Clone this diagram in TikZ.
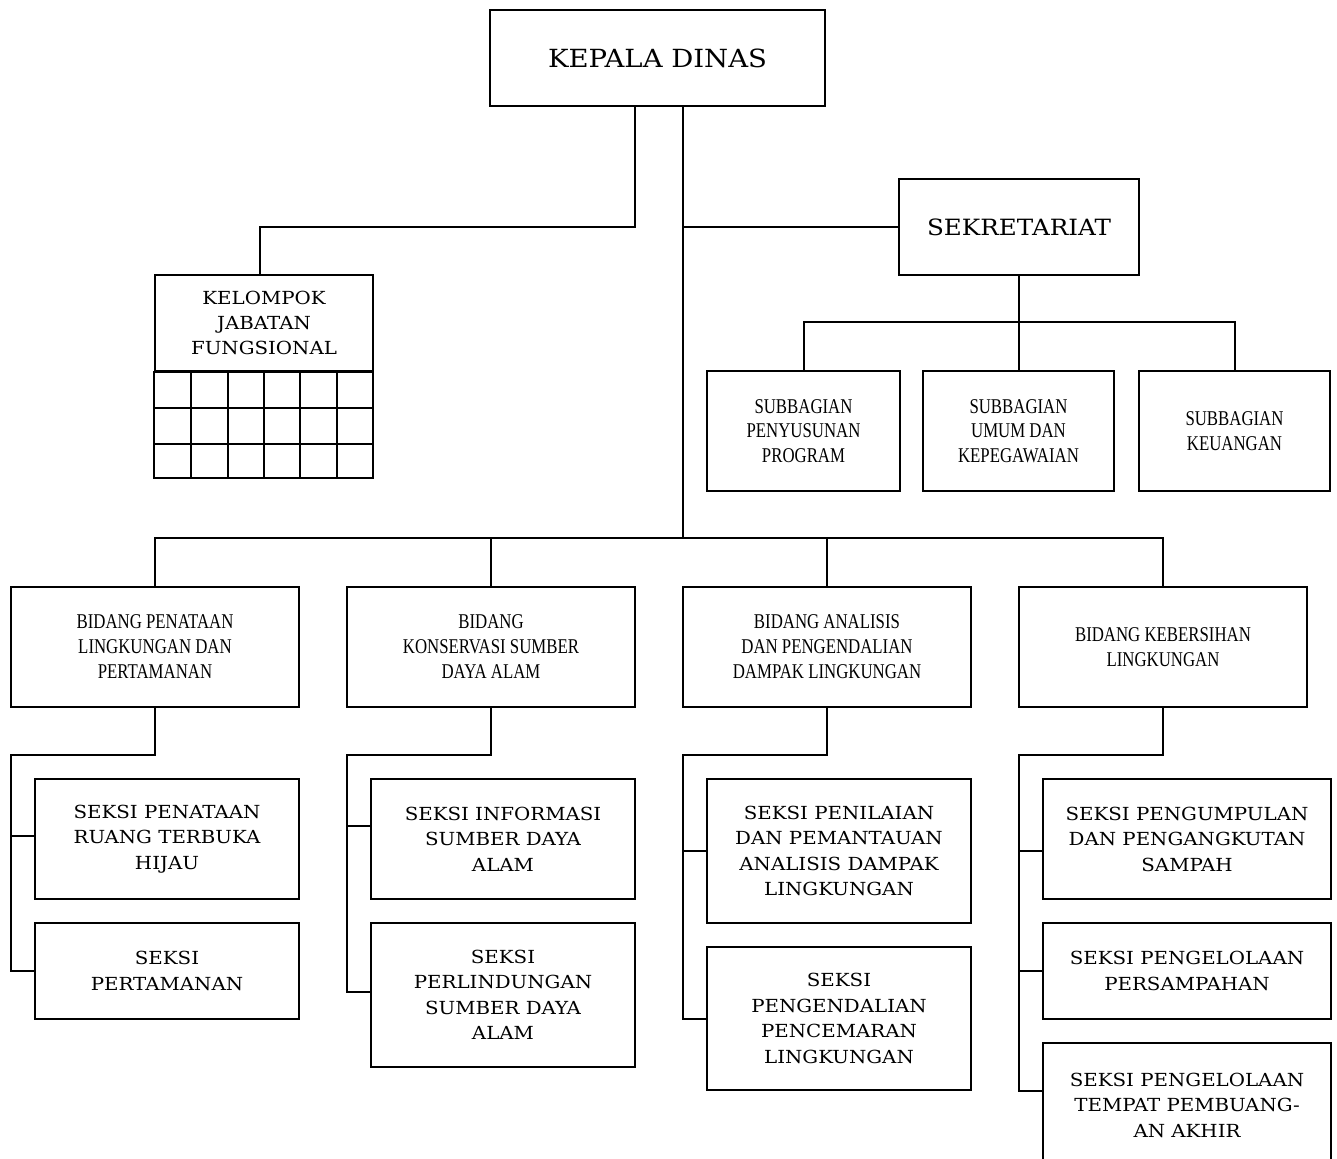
\documentclass[tikz,border=0pt]{standalone}
\usepackage{fontspec}
\setmainfont[FakeStretch=1.1]{DejaVu Serif}
\newfontfamily\narrowserif[FakeStretch=0.8]{Liberation Serif}
\usetikzlibrary{calc}

\tikzset{
  unitbox/.style={draw, line width=1pt, align=center, inner sep=0pt},
  headbox/.style={unitbox, minimum height=48pt},
  seksibox/.style={unitbox, font=\fontsize{9}{12.75}\selectfont, minimum width=132pt},
  bidangbox/.style={unitbox, font=\narrowserif\fontsize{10.5}{12.5}\selectfont, minimum width=144pt, minimum height=60pt},
  subbox/.style={unitbox, font=\narrowserif\fontsize{10.5}{12.2}\selectfont, minimum width=95.5pt, minimum height=60pt},
  link/.style={line width=1pt}
}

\begin{document}
\begin{tikzpicture}[x=0.5pt, y=-0.5pt]
  \useasboundingbox (0,0) rectangle (1337,1159);
  \clip (0,0) rectangle (1337,1159);

  % pimpinan
  \node[headbox, minimum width=167.5pt, font=\fontsize{12.5}{15}\selectfont] (kepala) at (657.5,58) {KEPALA DINAS};
  \node[headbox, minimum width=120pt, font=\fontsize{11.2}{14}\selectfont] (sekre) at (1019,227) {SEKRETARIAT};

  % kelompok jabatan fungsional
  \node[headbox, minimum width=109pt, font=\fontsize{9}{12.5}\selectfont] (kjf) at (264,323) {KELOMPOK\\JABATAN\\FUNGSIONAL};
  \draw[link] (kjf.south west) rectangle (373,478);
  \foreach \x in {191,228,264,300,337}
    \draw[link] (\x,371) -- (\x,478);
  \foreach \y in {408,444}
    \draw[link] (155,\y) -- (373,\y);

  % subbagian
  \node[subbox, minimum width=96.5pt] (subprog) at (803.5,431) {SUBBAGIAN\\PENYUSUNAN\\PROGRAM};
  \node[subbox] (subumum) at (1018.5,431) {SUBBAGIAN\\UMUM DAN\\KEPEGAWAIAN};
  \node[subbox] (subkeu) at (1234.5,431) {SUBBAGIAN\\KEUANGAN};

  % bidang
  \node[bidangbox] (bidtaman) at (155,647) {BIDANG PENATAAN\\LINGKUNGAN DAN\\PERTAMANAN};
  \node[bidangbox] (bidkons) at (491,647) {BIDANG\\KONSERVASI SUMBER\\DAYA ALAM};
  \node[bidangbox] (bidamdal) at (827,647) {BIDANG ANALISIS\\DAN PENGENDALIAN\\DAMPAK LINGKUNGAN};
  \node[bidangbox] (bidbersih) at (1163,647) {BIDANG KEBERSIHAN\\LINGKUNGAN};

  % seksi
  \node[seksibox, minimum height=60pt] (rth) at (167,839) {SEKSI PENATAAN\\RUANG TERBUKA\\HIJAU};
  \node[seksibox, minimum height=48pt] (taman) at (167,971) {SEKSI\\PERTAMANAN};
  \node[seksibox, minimum height=60pt] (info) at (503,839) {SEKSI INFORMASI\\SUMBER DAYA\\ALAM};
  \node[seksibox, minimum height=72pt] (lindung) at (503,995) {SEKSI\\PERLINDUNGAN\\SUMBER DAYA\\ALAM};
  \node[seksibox, minimum height=72pt] (nilai) at (839,851) {SEKSI PENILAIAN\\DAN PEMANTAUAN\\ANALISIS DAMPAK\\LINGKUNGAN};
  \node[seksibox, minimum height=71.5pt] (cemar) at (839,1018.5) {SEKSI\\PENGENDALIAN\\PENCEMARAN\\LINGKUNGAN};
  \node[seksibox, minimum width=144pt, minimum height=60pt] (angkut) at (1187,839) {SEKSI PENGUMPULAN\\DAN PENGANGKUTAN\\SAMPAH};
  \node[seksibox, minimum width=144pt, minimum height=48pt] (sampah) at (1187,971) {SEKSI PENGELOLAAN\\PERSAMPAHAN};
  \node[seksibox, minimum width=144pt, minimum height=62pt] (tpa) at (1187,1105) {SEKSI PENGELOLAAN\\TEMPAT PEMBUANG-\\AN AKHIR};

  % garis komando
  \coordinate (bus) at (683,538);
  \coordinate (sbus) at (1019,322);
  \draw[link] ([xshift=-11.25pt]kepala.south) |- (260,227) -- ([xshift=-2pt]kjf.north);
  \draw[link] ([xshift=12.75pt]kepala.south) -- (bus);
  \draw[link] (bus |- sekre.west) -- (sekre.west);
  \draw[link] (sekre.south) -- (sekre.south |- subumum.north);
  \draw[link] (subprog.north) |- (sbus) -| (subkeu.north);
  \draw[link] (bidtaman.north) |- (bus) -| (bidbersih.north);
  \draw[link] (bidkons.north) -- (bidkons.north |- bus);
  \draw[link] (bidamdal.north) -- (bidamdal.north |- bus);

  % bidang ke seksi
  \draw[link] (bidtaman.south) |- (11,755) |- (taman.west);
  \draw[link] (11,836) -- ([yshift=1.5pt]rth.west);
  \draw[link] (bidkons.south) |- (347,755) |- ([yshift=1.5pt]lindung.west);
  \draw[link] (347,826) -- ([yshift=6.5pt]info.west);
  \draw[link] (bidamdal.south) |- (683,755) |- (cemar.west);
  \draw[link] (683,851) -- (nilai.west);
  \draw[link] (bidbersih.south) |- (1019,755) |- ([yshift=7pt]tpa.west);
  \draw[link] (1019,851) -- ([yshift=-6pt]angkut.west);
  \draw[link] (1019,971) -- (sampah.west);
\end{tikzpicture}
\end{document}
